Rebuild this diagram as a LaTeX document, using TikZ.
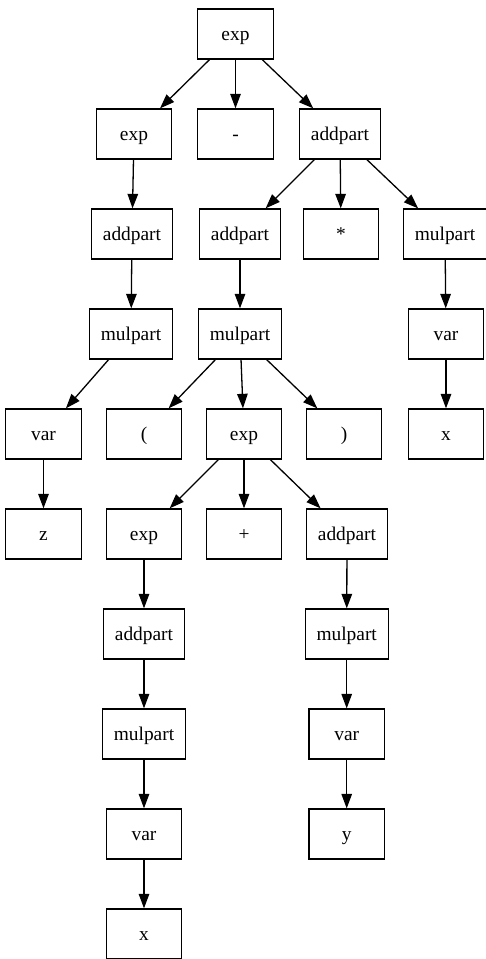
\documentclass[tikz,border=0pt]{standalone}
\usepackage{fontspec}
\setmainfont{Liberation Serif}
\usetikzlibrary{arrows.meta}
\tikzset{
  tnode/.style={draw, rectangle, line width=1.3pt, minimum width=75.6pt, minimum height=50pt,
    inner sep=0pt, text height=13pt, text depth=1pt, font=\fontsize{19.4}{23}\selectfont},
  wideA/.style={tnode, minimum width=81pt},
  wideM/.style={tnode, minimum width=83pt},
  edge/.style={line width=1.3pt, -{Triangle[length=14.5pt,width=10.5pt]}}
}
\begin{document}
\begin{tikzpicture}[x=1pt,y=-1pt]
\useasboundingbox (0,0) rectangle (485,959);
% level 1
\node[tnode] (e1) at (235.5,34) {exp};
% level 2
\node[tnode] (e2) at (134,134) {exp};
\node[tnode] (minus) at (235.5,134) {-};
\node[wideA] (a1) at (340,134) {addpart};
% level 3
\node[wideA] (a2) at (132,234) {addpart};
\node[wideA] (a3) at (240,234) {addpart};
\node[tnode] (star) at (341,234) {*};
\node[wideM] (m1) at (445,234) {mulpart};
% level 4
\node[wideM] (m2) at (131,334) {mulpart};
\node[wideM] (m3) at (240,334) {mulpart};
\node[tnode] (v1) at (446,334) {var};
% level 5
\node[tnode] (v2) at (43.5,434) {var};
\node[tnode] (lp) at (144,434) {(};
\node[tnode] (e3) at (244,434) {exp};
\node[tnode] (rp) at (344,434) {)};
\node[tnode] (x1) at (446,434) {x};
% level 6
\node[tnode] (z) at (43.5,534) {z};
\node[tnode] (e4) at (144,534) {exp};
\node[tnode] (plus) at (244,534) {+};
\node[wideA] (a4) at (347,534) {addpart};
% level 7
\node[wideA] (a5) at (144,634) {addpart};
\node[wideM] (m4) at (346.7,634) {mulpart};
% level 8
\node[wideM] (m5) at (144,734) {mulpart};
\node[tnode] (v3) at (346.7,734) {var};
% level 9
\node[tnode] (v4) at (144,834) {var};
\node[tnode] (y) at (346.7,834) {y};
% level 10
\node[tnode] (x2) at (144,934) {x};

% connectors
\draw[edge] (e1) -- (e2);
\draw[edge] (e1) -- (minus);
\draw[edge] (e1) -- (a1);
\draw[edge] (e2) -- (a2);
\draw[edge] (a1) -- (a3);
\draw[edge] (a1) -- (star);
\draw[edge] (a1) -- (m1);
\draw[edge] (a2) -- (m2);
\draw[edge] (a3) -- (m3);
\draw[edge] (m1) -- (v1);
\draw[edge] (m2) -- (v2);
\draw[edge] (m3) -- (lp);
\draw[edge] (m3) -- (e3);
\draw[edge] (m3) -- (rp);
\draw[edge] (v1) -- (x1);
\draw[edge] (v2) -- (z);
\draw[edge] (e3) -- (e4);
\draw[edge] (e3) -- (plus);
\draw[edge] (e3) -- (a4);
\draw[edge] (e4) -- (a5);
\draw[edge] (a4) -- (m4);
\draw[edge] (a5) -- (m5);
\draw[edge] (m4) -- (v3);
\draw[edge] (m5) -- (v4);
\draw[edge] (v3) -- (y);
\draw[edge] (v4) -- (x2);
\end{tikzpicture}
\end{document}
